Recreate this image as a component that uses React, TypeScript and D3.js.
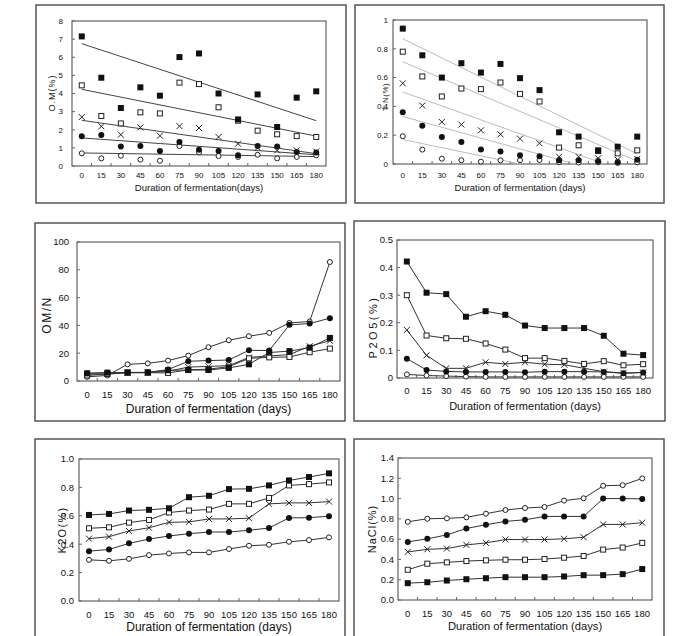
import React from 'react'
import * as d3 from 'd3'

// x categories (days of fermentation)
const days = [0, 15, 30, 45, 60, 75, 90, 105, 120, 135, 150, 165, 180]

// series order in every panel: filled square, open square, cross, filled circle, open circle
const markers = ['fsq', 'osq', 'x', 'fci', 'oci']

// O.M(%)
const omFsq = [7.15, 4.87, 3.2, 4.34, 3.88, 6.01, 6.21, 4.0, 2.57, 3.95, 2.15, 3.77, 4.12]
const omOsq = [4.45, 2.76, 2.35, 2.96, 2.9, 4.6, 4.52, 3.24, 2.5, 1.95, 1.75, 1.65, 1.6]
const omX = [2.7, 2.19, 1.73, 2.13, 1.67, 2.2, 2.1, 1.6, 1.23, 1.0, 0.86, 0.86, 0.8]
const omFci = [1.64, 1.71, 1.07, 1.1, 0.83, 1.32, 0.9, 0.83, 0.59, 1.1, 1.08, 0.77, 0.74]
const omOci = [0.7, 0.42, 0.57, 0.35, 0.29, 1.1, 0.75, 0.55, 0.5, 0.62, 0.42, 0.5, 0.59]
const omTrendStart = [6.75, 4.23, 2.52, 1.55, 0.72]
const omTrendEnd = [2.5, 1.65, 0.68, 0.62, 0.52]

// T-N(%)
const tnFsq = [0.94, 0.755, 0.6, 0.7, 0.635, 0.695, 0.596, 0.513, 0.22, 0.19, 0.095, 0.12, 0.19]
const tnOsq = [0.78, 0.608, 0.469, 0.524, 0.52, 0.566, 0.487, 0.434, 0.114, 0.13, 0.09, 0.074, 0.095]
const tnX = [0.56, 0.406, 0.292, 0.274, 0.234, 0.206, 0.176, 0.144, 0.05, 0.05, 0.04, 0.03, 0.035]
const tnFci = [0.36, 0.265, 0.188, 0.153, 0.1, 0.086, 0.06, 0.053, 0.026, 0.026, 0.02, 0.014, 0.03]
const tnOci = [0.193, 0.1, 0.037, 0.026, 0.016, 0.026, 0.026, 0.028, 0.012, 0.01, 0.012, 0.007, 0.012]
const tnTrendStart = [0.87, 0.71, 0.5, 0.33, 0.17]
const tnTrendEnd = [0.07, 0.02, -0.08, -0.12, -0.17]

// OM/N
const onFsq = [5.5, 6, 6.2, 6.2, 7.7, 7.9, 7.9, 9.4, 12, 20.5, 21.5, 24, 31]
const onOsq = [4, 5, 6, 6, 5.8, 8, 8.5, 10.3, 16.3, 17, 17.3, 20.7, 23.3]
const onX = [5, 5, 6, 6, 7, 10, 10.5, 11, 17, 18, 19, 25, 29]
const onFci = [5.5, 6, 6, 6.2, 8.2, 14.2, 14.7, 15.1, 22.1, 21.9, 40.4, 41.3, 45.2]
const onOci = [3, 4, 12, 12.7, 14.7, 18.3, 24.3, 29.3, 32.2, 34.6, 41.8, 42.8, 85.6]

// P2O5(%)
const pFsq = [0.422, 0.309, 0.304, 0.222, 0.242, 0.229, 0.19, 0.181, 0.181, 0.181, 0.153, 0.088, 0.083]
const pOsq = [0.3, 0.154, 0.144, 0.142, 0.125, 0.103, 0.072, 0.072, 0.062, 0.051, 0.061, 0.046, 0.05]
const pX = [0.174, 0.082, 0.035, 0.035, 0.057, 0.051, 0.057, 0.05, 0.048, 0.035, 0.023, 0.018, 0.02]
const pFci = [0.07, 0.029, 0.024, 0.022, 0.022, 0.022, 0.021, 0.023, 0.023, 0.023, 0.022, 0.017, 0.02]
const pOci = [0.013, 0.009, 0.007, 0.005, 0.004, 0.004, 0.004, 0.004, 0.004, 0.004, 0.004, 0.004, 0.004]

// K2O(%)
const kFsq = [0.606, 0.613, 0.637, 0.642, 0.653, 0.731, 0.741, 0.788, 0.79, 0.814, 0.849, 0.873, 0.899]
const kOsq = [0.512, 0.519, 0.552, 0.571, 0.623, 0.637, 0.644, 0.684, 0.684, 0.726, 0.814, 0.823, 0.835]
const kX = [0.439, 0.453, 0.493, 0.516, 0.554, 0.557, 0.578, 0.578, 0.583, 0.684, 0.691, 0.691, 0.7]
const kFci = [0.351, 0.363, 0.406, 0.436, 0.458, 0.474, 0.486, 0.486, 0.498, 0.514, 0.585, 0.587, 0.597]
const kOci = [0.29, 0.283, 0.297, 0.323, 0.335, 0.342, 0.342, 0.366, 0.389, 0.396, 0.417, 0.429, 0.448]

// NaCl(%)
const nFsq = [0.166, 0.175, 0.192, 0.205, 0.215, 0.225, 0.225, 0.225, 0.232, 0.245, 0.245, 0.255, 0.305]
const nOsq = [0.298, 0.358, 0.371, 0.384, 0.391, 0.397, 0.397, 0.404, 0.417, 0.434, 0.497, 0.517, 0.563]
const nX = [0.474, 0.5, 0.507, 0.543, 0.563, 0.596, 0.596, 0.596, 0.603, 0.619, 0.745, 0.745, 0.762]
const nFci = [0.573, 0.603, 0.642, 0.705, 0.742, 0.775, 0.791, 0.824, 0.824, 0.824, 1.0, 1.0, 0.997]
const nOci = [0.771, 0.801, 0.805, 0.815, 0.851, 0.887, 0.907, 0.917, 0.98, 1.003, 1.126, 1.132, 1.199]

const FONT = '"Liberation Sans", Arial, sans-serif'

type PanelCfg = {
  id: string
  frame: [number, number, number, number]
  plot: [number, number, number, number]
  yMax: number
  yStep: number
  yFmt: (v: number) => string
  yLabel: string
  yLabelX: number
  yLabelY: number
  yLabelSize: number
  yLabelSpacing: number
  tickSize: number
  tickGap: number
  title: string
  titleSize: number
  tickY: number
  titleY: number
  series: number[][]
  lines: boolean
  trend?: { start: number[]; end: number[]; color: string }
  ms: number
}

const Marker = ({ kind, x, y, s }: { kind: string; x: number; y: number; s: number }) => {
  const h = s / 2
  if (kind === 'fsq') return <rect x={x - h} y={y - h} width={s} height={s} fill="#111" />
  if (kind === 'osq')
    return <rect x={x - h + 0.5} y={y - h + 0.5} width={s - 1} height={s - 1} fill="#fff" stroke="#222" strokeWidth={1} />
  if (kind === 'x')
    return (
      <path d={`M${x - h},${y - h}L${x + h},${y + h}M${x - h},${y + h}L${x + h},${y - h}`} stroke="#222" strokeWidth={1} />
    )
  if (kind === 'fci') return <circle cx={x} cy={y} r={h} fill="#111" />
  return <circle cx={x} cy={y} r={h - 0.5} fill="#fff" stroke="#222" strokeWidth={1} />
}

const Panel = ({ cfg }: { cfg: PanelCfg }) => {
  const [fx, fy, fw, fh] = cfg.frame
  const [px, py, pw, ph] = cfg.plot
  const x = d3.scalePoint<number>().domain(days).range([px, px + pw]).padding(0.5)
  const y = d3.scaleLinear().domain([0, cfg.yMax]).range([py + ph, py])
  const yTicks = d3.range(0, cfg.yMax + cfg.yStep / 2, cfg.yStep)
  const step = x.step()
  const line = d3
    .line<number>()
    .x((_, i) => x(days[i]) as number)
    .y((d) => y(d))
  const drawOrder = [4, 3, 2, 1, 0]
  return (
    <g>
      <rect x={fx} y={fy} width={fw} height={fh} fill="#fff" stroke="#555" strokeWidth={1.5} />
      <defs>
        <clipPath id={`clip-${cfg.id}`}>
          <rect x={px} y={py} width={pw} height={ph} />
        </clipPath>
      </defs>
      <rect x={px} y={py} width={pw} height={ph} fill="#fff" stroke="#444" strokeWidth={1} />
      {/* y ticks */}
      {yTicks.map((t) => (
        <g key={t}>
          <line x1={px} x2={px + 3} y1={y(t)} y2={y(t)} stroke="#666" />
          <text
            x={px - cfg.tickGap}
            y={y(t)}
            dy="0.35em"
            textAnchor="end"
            fontSize={cfg.tickSize}
            fontFamily={FONT}
            fill="#111"
          >
            {cfg.yFmt(t)}
          </text>
        </g>
      ))}
      {/* x ticks between categories */}
      {d3.range(1, days.length).map((i) => (
        <line
          key={i}
          x1={px + step * i}
          x2={px + step * i}
          y1={py + ph}
          y2={py + ph - 3}
          stroke="#666"
        />
      ))}
      {days.map((d) => (
        <text
          key={d}
          x={x(d)}
          y={cfg.tickY}
          textAnchor="middle"
          dy="0.35em"
          fontSize={cfg.tickSize}
          fontFamily={FONT}
          fill="#111"
        >
          {d}
        </text>
      ))}
      <text
        x={px + pw / 2}
        y={cfg.titleY}
        dy="0.35em"
        textAnchor="middle"
        fontSize={cfg.titleSize}
        fontFamily={FONT}
        fill="#111"
      >
        {cfg.title}
      </text>
      <text
        transform={`translate(${cfg.yLabelX},${cfg.yLabelY}) rotate(-90)`}
        dy="0.35em"
        textAnchor="middle"
        fontSize={cfg.yLabelSize}
        letterSpacing={cfg.yLabelSpacing}
        fontFamily={FONT}
        fill="#111"
      >
        {cfg.yLabel}
      </text>
      {cfg.trend && (
        <g clipPath={`url(#clip-${cfg.id})`}>
          {cfg.trend.start.map((s, i) => (
            <line
              key={i}
              x1={x(days[0])}
              x2={x(days[days.length - 1])}
              y1={y(s)}
              y2={y(cfg.trend!.end[i])}
              stroke={cfg.trend!.color}
              strokeWidth={1}
            />
          ))}
        </g>
      )}
      {cfg.lines &&
        drawOrder.map((si) => (
          <path key={si} d={line(cfg.series[si]) || ''} fill="none" stroke="#333" strokeWidth={1} />
        ))}
      {drawOrder.map((si) =>
        cfg.series[si].map((v, j) => (
          <Marker key={`${si}-${j}`} kind={markers[si]} x={x(days[j]) as number} y={y(v)} s={cfg.ms} />
        ))
      )}
    </g>
  )
}

const panels: PanelCfg[] = [
  {
    id: 'om',
    frame: [36, 5, 310, 198],
    plot: [72, 21, 254, 145],
    yMax: 8,
    yStep: 1,
    yFmt: (v) => d3.format('d')(v),
    yLabel: 'O.M(%)',
    yLabelX: 52,
    yLabelY: 93,
    yLabelSize: 9,
    yLabelSpacing: 1,
    tickSize: 8,
    tickGap: 9,
    title: 'Duration of fermentation(days)',
    titleSize: 9.5,
    tickY: 175,
    titleY: 188,
    series: [omFsq, omOsq, omX, omFci, omOci],
    lines: false,
    trend: { start: omTrendStart, end: omTrendEnd, color: '#444' },
    ms: 6,
  },
  {
    id: 'tn',
    frame: [355, 5, 309, 198],
    plot: [393, 20, 254, 144],
    yMax: 1,
    yStep: 0.2,
    yFmt: (v) => (v === 0 || v === 1 ? d3.format('d')(v) : d3.format('.1f')(v)),
    yLabel: 'T-N(%)',
    yLabelX: 385,
    yLabelY: 97,
    yLabelSize: 8,
    yLabelSpacing: 0.5,
    tickSize: 8,
    tickGap: 5,
    title: 'Duration of fermentation (days)',
    titleSize: 9.5,
    tickY: 175,
    titleY: 188,
    series: [tnFsq, tnOsq, tnX, tnFci, tnOci],
    lines: false,
    trend: { start: tnTrendStart, end: tnTrendEnd, color: '#bbb' },
    ms: 6,
  },
  {
    id: 'on',
    frame: [35, 223, 310, 198],
    plot: [77, 242, 263, 139],
    yMax: 100,
    yStep: 20,
    yFmt: (v) => d3.format('d')(v),
    yLabel: 'OM/N',
    yLabelX: 47,
    yLabelY: 315,
    yLabelSize: 12,
    yLabelSpacing: 1.5,
    tickSize: 9.5,
    tickGap: 8,
    title: 'Duration of fermentation (days)',
    titleSize: 12,
    tickY: 395,
    titleY: 409,
    series: [onFsq, onOsq, onX, onFci, onOci],
    lines: true,
    ms: 6,
  },
  {
    id: 'p',
    frame: [354, 221, 311, 200],
    plot: [397, 240, 256, 138],
    yMax: 0.5,
    yStep: 0.1,
    yFmt: (v) => (v === 0 ? '0' : d3.format('.1f')(v)),
    yLabel: 'P2O5(%)',
    yLabelX: 373,
    yLabelY: 327,
    yLabelSize: 11,
    yLabelSpacing: 2.5,
    tickSize: 9.5,
    tickGap: 4,
    title: 'Duration of fermentation (days)',
    titleSize: 11,
    tickY: 391,
    titleY: 406,
    series: [pFsq, pOsq, pX, pFci, pOci],
    lines: true,
    ms: 6,
  },
  {
    id: 'k',
    frame: [35, 439, 310, 205],
    plot: [79, 459, 260, 142],
    yMax: 1.0,
    yStep: 0.2,
    yFmt: (v) => d3.format('.1f')(v),
    yLabel: 'K2O(%)',
    yLabelX: 62,
    yLabelY: 530,
    yLabelSize: 11,
    yLabelSpacing: 1.3,
    tickSize: 9.5,
    tickGap: 5,
    title: 'Duration of fermentation (days)',
    titleSize: 12,
    tickY: 615,
    titleY: 627,
    series: [kFsq, kOsq, kX, kFci, kOci],
    lines: true,
    ms: 6,
  },
  {
    id: 'n',
    frame: [354, 439, 310, 205],
    plot: [398, 458, 254, 142],
    yMax: 1.4,
    yStep: 0.2,
    yFmt: (v) => d3.format('.1f')(v),
    yLabel: 'NaCl(%)',
    yLabelX: 372,
    yLabelY: 529,
    yLabelSize: 11,
    yLabelSpacing: 1,
    tickSize: 9.5,
    tickGap: 4,
    title: 'Duration of fermentation (days)',
    titleSize: 11.2,
    tickY: 614,
    titleY: 626,
    series: [nFsq, nOsq, nX, nFci, nOci],
    lines: true,
    ms: 6,
  },
]

export default function App() {
  return (
    <svg
      width={692}
      height={636}
      style={{ position: 'absolute', left: 0, top: 0, background: '#fff' }}
    >
      <rect width={692} height={636} fill="#fff" />
      {panels.map((p) => (
        <Panel key={p.id} cfg={p} />
      ))}
    </svg>
  )
}
